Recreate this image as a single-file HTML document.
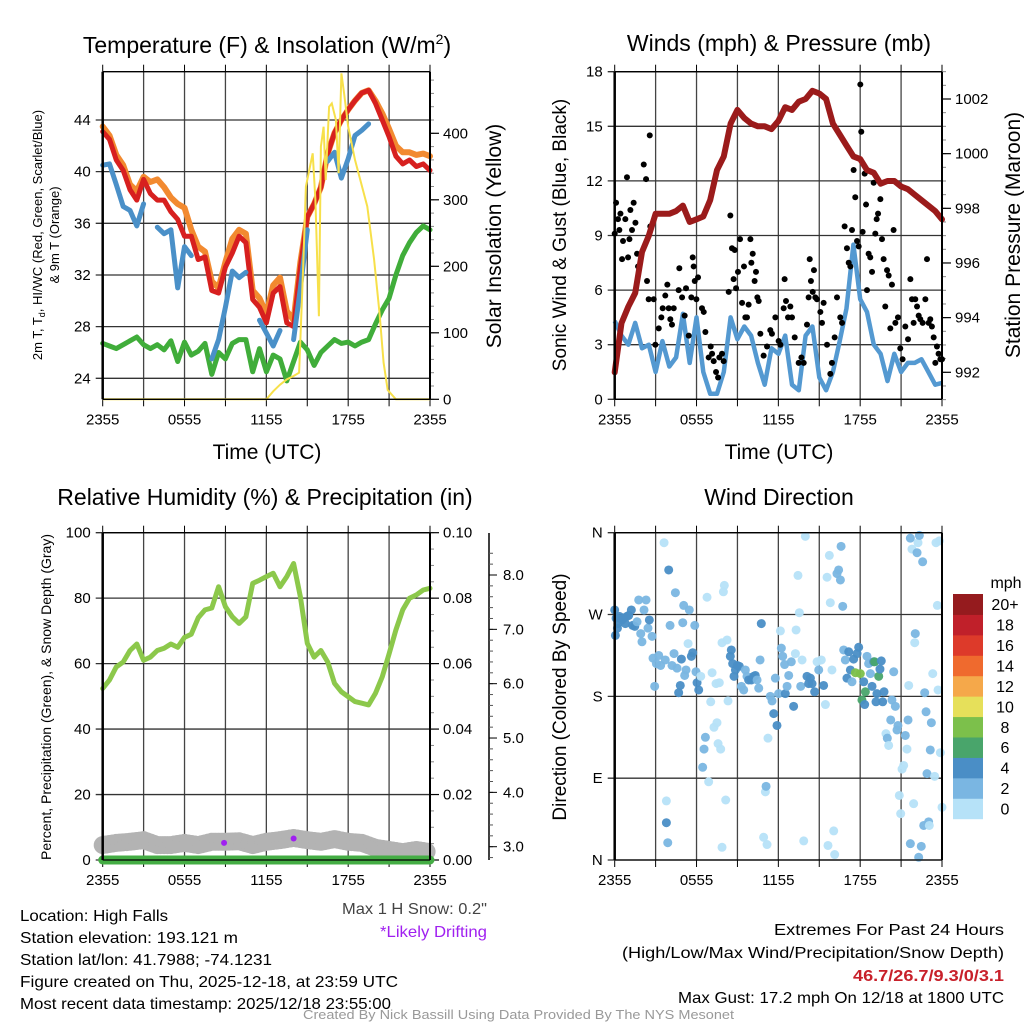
<!DOCTYPE html>
<html><head><meta charset="utf-8"><style>
body{margin:0;background:#fff}
svg text{font-family:"Liberation Sans Narrow","Liberation Sans",sans-serif;fill:#000}
</style></head><body>
<svg id="svg" width="1024" height="1024" viewBox="0 0 1024 1024" xmlns="http://www.w3.org/2000/svg">
<g id="layer"></g>
<g>
<text x="20" y="921" font-size="16" textLength="148" lengthAdjust="spacingAndGlyphs">Location: High Falls</text>
<text x="20" y="943" font-size="16" textLength="218" lengthAdjust="spacingAndGlyphs">Station elevation: 193.121 m</text>
<text x="20" y="965" font-size="16" textLength="252" lengthAdjust="spacingAndGlyphs">Station lat/lon: 41.7988; -74.1231</text>
<text x="20" y="987" font-size="16" textLength="378" lengthAdjust="spacingAndGlyphs">Figure created on Thu, 2025-12-18, at 23:59 UTC</text>
<text x="20" y="1009" font-size="16" textLength="371" lengthAdjust="spacingAndGlyphs">Most recent data timestamp: 2025/12/18 23:55:00</text>
<text x="342" y="914" font-size="16" textLength="145" lengthAdjust="spacingAndGlyphs" style="fill:#444">Max 1 H Snow: 0.2"</text>
<text x="380" y="937" font-size="16" textLength="107" lengthAdjust="spacingAndGlyphs" style="fill:#a020f0">*Likely Drifting</text>
<text x="774" y="935" font-size="16" textLength="230" lengthAdjust="spacingAndGlyphs">Extremes For Past 24 Hours</text>
<text x="622" y="958" font-size="16" textLength="382" lengthAdjust="spacingAndGlyphs">(High/Low/Max Wind/Precipitation/Snow Depth)</text>
<text x="853" y="981" font-size="16" font-weight="bold" textLength="151" lengthAdjust="spacingAndGlyphs" style="fill:#c8202a">46.7/26.7/9.3/0/3.1</text>
<text x="678" y="1003" font-size="16" textLength="326" lengthAdjust="spacingAndGlyphs">Max Gust: 17.2 mph On 12/18 at 1800 UTC</text>
<text x="303" y="1019" font-size="13" textLength="431" lengthAdjust="spacingAndGlyphs" style="fill:#999">Created By Nick Bassill Using Data Provided By The NYS Mesonet</text>
</g>
</svg>
<script>
// ---------- DATA ----------
const halfHours=[0,0.5,1,1.5,2,2.5,3,3.5,4,4.5,5,5.5,6,6.5,7,7.5,8,8.5,9,9.5,10,10.5,11,11.5,12,12.5,13,13.5,14,14.5,15,15.5,16,16.5,17,17.5,18,18.5,19,19.5,20,20.5,21,21.5,22,22.5,23,23.5,24];
const tempRed=[43.1,42.5,40.9,40.1,38.6,37.8,39.4,38.3,37.8,37.8,36.9,36.3,35,35,33.2,33.4,30.8,30.6,32.6,33.7,35,34.5,30.1,29.5,28.3,30.6,31.1,28.3,28,32.6,36.5,37.5,38.8,41.4,43,44,44.8,45.5,46.1,46.3,45.3,44,42.7,41.2,40.6,40.9,40.4,40.6,40.1];
const temp9m=[43.5,42.8,41.3,40.5,39.0,38.5,39.6,39.2,39.4,38.8,38.0,37.5,37.2,35.5,34.2,33.8,31.5,31.0,33.0,34.8,35.5,35.2,30.8,30.2,29.0,31.2,31.8,29.2,28.5,33.0,36.5,37.5,38.8,41.4,43,44,44.8,45.5,46.1,46.3,45.5,44.5,43.3,42,41.5,41.5,41.3,41.4,41.2];
const windChill=[40.5,40.6,39,37.3,37,35.8,37.5,null,35.7,35.2,35.5,31,34.2,33.5,null,null,25.5,27,29.5,32.3,31.8,32.2,null,28.5,27.5,26.5,27.7,null,27,31,35.5,null,null,40.8,41.5,39.5,41,42.8,43.2,43.7,null,null,null,39.6,null,null,null,null,null];
const dewPoint=[26.7,26.5,26.3,26.6,26.9,27.2,26.6,26.3,26.6,26.2,26.9,25.3,26.8,25.8,26.1,26.7,24.3,26.0,25.5,26.7,27.0,27.0,24.5,26.3,24.5,25.8,25.5,23.8,25.3,26.8,26.2,25.0,26.0,26.5,27.0,26.7,26.8,26.5,26.8,27.0,28.2,29.3,30.2,32,33.5,34.5,35.3,35.8,35.5];
const solarHours=[0,12,12.5,13,13.5,14,14.4,14.7,14.9,15.2,15.4,15.6,15.85,16,16.2,16.35,16.6,16.8,17.1,17.3,17.5,17.7,18,18.5,19.4,19.9,20.3,20.6,20.9,21.5,24];
const solarVals=[0,0,12,22,30,35,40,200,320,350,370,300,125,380,410,330,440,445,420,340,490,460,410,360,290,210,130,55,14,0,0];
const windSpeed=[4.3,3.5,3.0,4.2,2.8,3.0,1.5,3.2,1.8,2.3,4.7,2.0,4.5,1.5,0.3,0.3,1.5,4.5,3.3,4.0,3.5,2.0,0.8,2.8,2.5,3.5,0.8,0.5,3.5,4.0,1.2,0.5,1.5,3.2,5.0,8.5,5.5,4.8,3.0,2.5,1.0,2.5,1.5,2.0,2.0,2.2,1.5,0.8,0.9];
const pressure=[992.0,993.8,994.4,994.9,996.4,997.0,997.8,997.8,997.8,997.9,998.1,997.5,997.6,997.7,998.3,999.4,999.9,1001.1,1001.6,1001.3,1001.1,1001.0,1001.0,1000.9,1001.2,1001.7,1001.6,1001.9,1002.0,1002.3,1002.2,1002.0,1001.1,1000.7,1000.3,999.9,999.8,999.4,999.3,998.9,999.0,999.0,998.8,998.7,998.5,998.3,998.1,997.9,997.6];
const gustHours=[0,0.1,0.24,0.34,0.42,0.54,0.61,0.78,0.9,0.98,1.08,1.15,1.27,1.39,1.52,1.64,1.71,2.13,2.3,2.37,2.49,2.57,2.61,2.86,2.98,3.23,3.42,3.52,3.71,3.86,3.96,4.08,4.2,4.33,4.69,4.74,4.94,5.13,5.23,5.43,5.62,5.72,5.79,5.87,5.99,6.11,6.4,6.53,6.65,6.89,7.04,7.14,7.26,7.43,7.58,7.67,7.87,7.99,8.36,8.48,8.6,8.72,8.8,8.9,9.04,9.19,9.34,9.48,9.58,9.7,9.82,9.95,10.02,10.12,10.26,10.36,10.46,10.56,10.68,10.92,11.17,11.41,11.53,11.78,12.02,12.15,12.39,12.46,12.56,12.71,12.88,13.0,13.2,13.49,13.69,13.86,14.1,14.22,14.3,14.39,14.52,14.61,14.71,14.83,15.08,15.2,15.32,15.57,15.81,15.93,16.13,16.3,16.54,16.67,16.86,17.03,17.16,17.28,17.4,17.52,17.64,17.77,17.89,18.01,18.08,18.18,18.33,18.43,18.5,18.62,18.74,18.87,18.99,19.11,19.21,19.31,19.48,19.6,19.72,19.84,19.97,20.09,20.21,20.33,20.45,20.58,20.77,20.94,21.11,21.31,21.51,21.68,21.8,21.92,22.04,22.17,22.29,22.41,22.58,22.78,22.9,23.02,23.14,23.26,23.39,23.51,23.63,23.75,23.88,24];
const gustVals=[9.1,10.8,9.9,9.3,10.2,7.7,8.7,9.9,12.2,7.8,8.8,10.4,9.3,10.8,9.7,8.0,7.3,12.9,12.1,6.5,5.5,14.5,9.5,5.5,3.0,3.9,4.5,5.0,5.7,6.3,5.0,4.4,4.1,5.0,6.0,7.2,5.6,4.6,6.1,3.5,5.6,7.8,7.3,6.5,5.5,6.7,5.0,4.8,3.7,2.3,2.9,2.5,2.1,1.5,1.2,2.3,2.5,2.1,5.9,10.1,8.3,6.6,8.2,6.1,7.0,8.8,5.3,7.3,4.5,4.5,5.2,8.8,7.5,8.0,6.5,7.0,5.6,5.4,3.6,2.4,2.9,3.8,3.6,4.5,3.2,3.0,5.0,6.6,5.4,4.5,5.1,4.5,3.4,2.0,2.3,2.0,4.1,5.6,7.7,6.5,5.9,7.1,5.6,5.5,4.8,4.2,5.3,3.0,1.4,2.0,3.4,5.6,4.5,4.2,9.5,8.3,7.5,7.3,9.3,12.6,11.1,8.7,8.4,17.3,14.7,9.2,12.4,10.7,6.0,8.0,7.8,7.0,11.9,9.1,9.9,10.2,11.0,8.8,7.7,5.1,7.1,6.8,3.9,6.3,9.3,4.2,4.5,2.8,2.2,4.0,3.3,6.6,5.5,4.2,5.5,5.1,4.6,4.4,4.2,5.5,7.7,4.2,4.4,4.0,3.4,2.0,2.9,2.5,2.2,2.2];
const rh=[52.4,55,59,60.5,64,66,61,62,64,64.7,66,65,68,69,74,76.4,77,83.5,77.4,74.3,72.3,74.3,84.5,85.5,86.6,87.6,83.5,86.6,90.6,80.4,66.2,62,64,60.5,54,51.4,49.9,48.4,47.9,47.4,50.9,56,63,70.3,76.4,80,81,82.5,83];
const snowHours=[0,1,2,3,4,5,6,7,8,9,10,11,12,13,14,15,16,17,18,19,20,21,22,23,24];
const snowDepth=[3.03,3.07,3.09,3.12,3.03,3.03,3.07,3.03,3.09,3.09,3.1,3.03,3.09,3.12,3.16,3.12,3.09,3.14,3.09,3.07,2.98,2.94,2.9,2.94,2.9];
const driftHours=[8.9,14.0];
const driftDepth=[3.07,3.15];
const dirHours=[0,0.1,0.24,0.34,0.54,0.66,0.78,0.9,1.03,1.22,1.32,1.47,1.64,1.76,1.91,2.0,2.15,2.3,2.44,2.54,2.74,0.05,0.2,2.81,2.93,3.06,3.23,3.37,3.62,3.71,3.96,4.06,4.2,4.35,4.45,4.57,4.69,4.81,4.89,4.99,5.06,5.13,5.23,5.38,5.47,5.62,5.72,5.87,5.96,6.04,6.16,6.31,6.45,6.55,6.65,6.77,6.89,7.04,7.14,7.28,7.43,7.5,7.58,7.67,7.77,7.87,7.97,8.04,8.14,8.24,8.31,8.48,8.55,8.65,8.75,8.85,8.99,9.14,9.29,9.46,9.58,9.7,9.82,10.02,10.19,10.31,10.44,10.56,10.66,10.75,7.87,3.79,3.79,3.89,10.92,11.05,11.1,11.17,11.24,11.41,11.54,11.66,11.78,11.9,12.02,12.15,12.22,12.32,12.46,12.51,12.64,12.76,12.95,13.12,13.25,13.3,13.44,13.54,13.64,13.74,13.86,13.98,14.1,14.22,14.35,14.47,14.66,14.84,14.96,15.15,15.32,15.45,15.57,15.64,15.74,15.81,15.93,16.06,16.13,16.3,16.42,16.55,16.6,16.72,16.79,16.91,17.03,17.16,17.28,17.4,17.52,17.65,17.77,17.89,18.01,18.13,18.26,18.33,18.38,18.5,18.62,18.75,18.87,18.99,19.06,19.16,19.23,19.36,19.45,19.55,19.65,19.75,19.89,19.99,20.09,20.24,20.33,20.46,20.58,20.7,20.77,20.87,20.97,21.07,21.19,21.31,21.43,21.51,21.56,21.68,21.68,21.8,21.92,22.0,22.04,22.17,22.24,22.34,22.48,22.58,22.66,22.73,22.83,22.9,23.02,23.07,23.14,23.22,23.32,23.46,23.56,23.66,23.71,23.8,23.88,24.0,22.29];
const dirDeg=[275,266,260,268,264,266,260,268,269,275,258,257,262,286,249,240,275,286,255,264,246,247,255,222,191,216,225,214,349,220,319,258,214,227,294,211,184,192,221,261,280,203,209,238,275,224,228,258,207,195,187,202,102,122,135,289,86,174,206,146,194,151,128,195,122,239,295,302,66,242,175,224,231,216,202,209,214,213,191,187,209,202,198,198,202,203,198,189,220,260,14,65,41,19,25,75,81,17,134,180,175,161,200,148,183,252,233,224,215,183,191,203,218,169,227,253,313,272,191,220,21,356,202,194,200,194,185,218,209,220,192,171,311,16,335,283,209,32,6,315,319,308,345,279,231,220,200,229,209,196,221,206,227,234,205,176,196,171,185,224,216,205,191,218,218,174,183,202,210,219,174,185,139,134,126,154,176,207,169,143,148,71,51,100,104,137,122,154,192,18,354,342,62,239,249,338,349,357,15,328,38,184,163,95,42,38,121,151,205,92,349,280,187,351,118,58,3];
const dirSpeed=[5,5,5,5,5,5,5,5,5,5,5,5,3,3,3,3,3,3,3,5,3,5,5,3,3,3,3,3,1,3,5,3,3,3,3,3,5,5,5,3,3,3,3,1,3,5,5,3,3,5,5,1,3,3,3,1,1,1,1,1,1,1,1,1,1,1,1,1,1,1,1,5,5,5,5,5,5,5,3,3,3,3,5,5,5,5,3,3,3,5,1,1,5,3,1,1,3,1,1,3,3,5,3,5,3,1,3,3,3,5,3,3,3,5,1,1,1,1,3,1,1,1,5,5,5,5,5,1,3,1,5,1,1,1,1,1,1,1,1,3,3,3,3,3,3,3,5,5,5,3,5,9,5,5,9,7,5,5,7,3,3,3,5,5,7,5,5,7,5,5,5,5,1,3,1,3,3,3,3,3,3,1,1,1,1,3,1,3,1,3,3,1,1,1,3,3,1,3,3,3,3,3,3,3,3,1,3,3,1,1,1,1,1,1,1,1,3];
const cbLabels=["0","2","4","6","8","10","12","14","16","18","20+"];
const cbColors=["#b6e2f8","#7ab6e2","#4a8ec6","#49a56b","#7cc04b","#e6e05a","#f5a84a","#ef6a2e","#dd3a2a","#c0202a","#951b1e"];
const xTickLabels=["2355","0555","1155","1755","2355"];
const tempTicks=[24,28,32,36,40,44];
const solarTicks=[0,100,200,300,400];
const windTicks=[0,3,6,9,12,15,18];
const presTicks=[992,994,996,998,1000,1002];
const rhTicks=[0,20,40,60,80,100];
const precTicks=["0.00","0.02","0.04","0.06","0.08","0.10"];
const snowTicks=["3.0","4.0","5.0","6.0","7.0","8.0"];
const dirTicks=["N","E","S","W","N"];

// ---------- helpers ----------
const NS="http://www.w3.org/2000/svg";
const layer=document.getElementById('layer');
function mk(tag,attrs,parent){const e=document.createElementNS(NS,tag);for(const k in attrs)e.setAttribute(k,attrs[k]);(parent||layer).appendChild(e);return e;}
function lin(d0,d1,p0,p1){return v=>p0+(v-d0)*(p1-p0)/(d1-d0);}
const L=102.7,R=430,PW=R-L;
function xs(off){return lin(0,24,L+off,R+off);}
function pathFrom(xsArr,ysArr,X,Y){let d="",pen=false;for(let i=0;i<xsArr.length;i++){if(ysArr[i]==null){pen=false;continue;}d+=(pen?"L":"M")+X(xsArr[i]).toFixed(1)+","+Y(ysArr[i]).toFixed(1);pen=true;}return d;}
function frame(off,top,bot,g){
  for(let i=0;i<=8;i++){const x=L+off+i*PW/8;const l=mk('line',{x1:x,x2:x,y1:top,y2:bot,stroke:'#444','stroke-width':1.3},g);
    mk('line',{x1:x,x2:x,y1:top-7,y2:top,stroke:'#000'},g);mk('line',{x1:x,x2:x,y1:bot,y2:bot+7,stroke:'#000'},g);}
  xTickLabels.forEach((t,i)=>{const tx=mk('text',{x:L+off+i*PW/4,y:bot+25,'font-size':15,'text-anchor':'middle'},g);tx.textContent=t;});
}
function hgrid(off,Y,vals,labels,g){
  vals.forEach((v,i)=>{const y=Y(v);const l=mk('line',{x1:L+off-7,x2:R+off,y1:y,y2:y,stroke:'#333','stroke-width':1.3},g);
    const t=mk('text',{x:L+off-12,y:y+5,'font-size':15,'text-anchor':'end'},g);t.textContent=labels?labels[i]:v;});
}
function rightAxis(off,Y,vals,labels,top,bot,minorStep,lo,hi,g){
  const x=R+off;
  for(let v=lo;v<=hi+1e-9;v+=minorStep){const y=Y(v);if(y<top-0.5||y>bot+0.5)continue;mk('line',{x1:x,x2:x+4,y1:y,y2:y,stroke:'#888'},g);}
  vals.forEach((v,i)=>{const y=Y(v);mk('line',{x1:x,x2:x+9,y1:y,y2:y,stroke:'#000','stroke-width':1.2},g);
    const t=mk('text',{x:x+13,y:y+5,'font-size':15},g);t.textContent=labels?labels[i]:v;});
}
function label(txt,x,y,size,rot,name,anchor){const t=mk('text',{x:x,y:y,'font-size':size,'text-anchor':anchor||'middle',transform:rot?`rotate(-90 ${x} ${y})`:''});t.textContent=txt;return t;}
function box(off,top,bot,g){mk('line',{x1:L+off,x2:L+off,y1:top,y2:bot,stroke:'#000','stroke-width':2.5},g);mk('line',{x1:R+off,x2:R+off,y1:top,y2:bot,stroke:'#000','stroke-width':2},g);mk('line',{x1:L+off,x2:R+off,y1:top,y2:top,stroke:'#000','stroke-width':1.3},g);mk('line',{x1:L+off,x2:R+off,y1:bot,y2:bot,stroke:'#000','stroke-width':1.3},g);}

// ---------- Panel 1: Temperature ----------
{
const g=mk('g',{});
const top=71.7,bot=399.3,X=xs(0);
const Y=lin(24,44,378.3,120),YS=lin(0,400,399.3,133.3);
frame(0,top,bot,g);hgrid(0,Y,tempTicks,null,g);
rightAxis(0,YS,solarTicks,null,top,bot,20,0,480,g);
const lines=[[temp9m,'#f28a30',6,'temp-9m-line'],[tempRed,'#d7201f',5,'temp-2m-line'],[dewPoint,'#40ad3a',5,'dewpoint-line'],[windChill,'#4a90c8',5,'windchill-line']];
lines.forEach(s=>{const p=mk('path',{d:pathFrom(halfHours,s[0],X,Y),fill:'none',stroke:s[1],'stroke-width':s[2],'stroke-linejoin':'round','stroke-linecap':'round'},g);});
const sp=mk('path',{d:pathFrom(solarHours,solarVals,X,YS),fill:'none',stroke:'#f7e04a','stroke-width':2},g);
box(0,top,bot,g);
const t=mk('text',{x:267,y:53,'font-size':23,'text-anchor':'middle'},g);t.innerHTML='Temperature (F) &amp; Insolation (W/m<tspan dy="-9" font-size="14">2</tspan><tspan dy="9">)</tspan>';
const yl=mk('text',{x:42,y:235,'font-size':13,'text-anchor':'middle',transform:'rotate(-90 42 235)'},g);yl.innerHTML='2m T, T<tspan font-size="9" dy="3">d</tspan><tspan dy="-3">, HI/WC (Red, Green, Scarlet/Blue)</tspan>';
label('& 9m T (Orange)',59,235,13,true,'temperature-y-title-line2');
label('Solar Insolation (Yellow)',501,236,21,true,'solar-y-title');
label('Time (UTC)',267,459,21,false,'x-axis-title');
}
// ---------- Panel 2: Winds ----------
{
const off=512;const g=mk('g',{});
const top=71.7,bot=399.3,X=xs(off);
const Y=lin(0,18,399.3,71.7),YP=lin(992,1002,372.3,99);
frame(off,top,bot,g);hgrid(off,Y,windTicks,null,g);
rightAxis(off,YP,presTicks,null,top,bot,0.5,991,1003,g);
const wl=mk('path',{d:pathFrom(halfHours,windSpeed,X,Y),fill:'none',stroke:'#5499d1','stroke-width':4.5,'stroke-linejoin':'round'},g);
gustHours.forEach((h,i)=>{const c=mk('circle',{cx:X(h),cy:Y(gustVals[i]),r:3,fill:'#000'},g);});
const pl=mk('path',{d:pathFrom(halfHours,pressure,X,YP),fill:'none',stroke:'#9b1b1b','stroke-width':6,'stroke-linejoin':'round','stroke-linecap':'round'},g);
box(off,top,bot,g);
label('Winds (mph) & Pressure (mb)',779,51,23,false,'winds-title');
label('Sonic Wind & Gust (Blue, Black)',566,235,19,true,'wind-y-title');
label('Station Pressure (Maroon)',1020,235,21,true,'pressure-y-title');
label('Time (UTC)',779,459,21,false,'x-axis-title-2');
}
// ---------- Panel 3: RH ----------
{
const g=mk('g',{});
const top=532.7,bot=860,X=xs(0);
const Y=lin(0,100,860,532.7),YS=lin(3,8,846.7,575);
frame(0,top,bot,g);hgrid(0,Y,rhTicks,null,g);
rightAxis(0,Y,[0,20,40,60,80,100],precTicks,top,bot,5,0,100,g);
mk('line',{x1:489,x2:489,y1:533,y2:860,stroke:'#000','stroke-width':1.5},g);
for(let v=2.8;v<=8.6;v+=0.2){const y=YS(v);if(y<533||y>860)continue;mk('line',{x1:489,x2:493,y1:y,y2:y,stroke:'#555'},g);}
snowTicks.forEach(s=>{const y=YS(parseFloat(s));mk('line',{x1:489,x2:497,y1:y,y2:y,stroke:'#000'},g);const t=mk('text',{x:503,y:y+5,'font-size':15},g);t.textContent=s;});
for(let i=0;i<snowHours.length-1;i++){for(let k=0;k<4;k++){const f=k/4;const h=snowHours[i]+f*(snowHours[i+1]-snowHours[i]);const v=snowDepth[i]+f*(snowDepth[i+1]-snowDepth[i]);const c=mk('circle',{cx:X(h),cy:YS(v),r:9,fill:'#b3b3b3'},g);}}
const pr=mk('line',{x1:X(0),x2:X(24),y1:Y(0),y2:Y(0),stroke:'#44ad44','stroke-width':9,'stroke-linecap':'round'},g);
driftHours.forEach((h,i)=>{const c=mk('circle',{cx:X(h),cy:YS(driftDepth[i]),r:3,fill:'#a020f0'},g);});
const rl=mk('path',{d:pathFrom(halfHours,rh,X,Y),fill:'none',stroke:'#8cc84b','stroke-width':5,'stroke-linejoin':'round','stroke-linecap':'round'},g);
box(0,top,bot,g);
label('Relative Humidity (%) & Precipitation (in)',265,505,23,false,'humidity-title');
label('Percent, Precipitation (Green), & Snow Depth (Gray)',51,697,14,true,'humidity-y-title');
}
// ---------- Panel 4: Wind direction ----------
{
const off=512;const g=mk('g',{});
const top=532.7,bot=860,X=xs(off);
const Y=lin(0,360,860,532.7);
frame(off,top,bot,g);hgrid(off,Y,[0,90,180,270,360],dirTicks,g);
function col(s){return cbColors[Math.min(10,Math.floor(s/2))];}
dirHours.forEach((h,i)=>{const c=mk('circle',{cx:X(h),cy:Y(dirDeg[i]),r:4.5,fill:col(dirSpeed[i]),'fill-opacity':0.95},g);});
box(off,top,bot,g);
const cbTop=594,cbBot=818.7,bh=(cbBot-cbTop)/11;
cbColors.forEach((c,i)=>{const y=cbBot-(i+1)*bh;const r=mk('rect',{x:953,y:y,width:30,height:bh+0.5,fill:c},g);
  const t=mk('text',{x:1005,y:y+bh/2+6,'font-size':16,'text-anchor':'middle'},g);t.textContent=cbLabels[i];});
label('mph',1006,588,16,false,'colorbar-title');
label('Wind Direction',779,505,23,false,'wind-direction-title');
label('Direction (Colored By Speed)',566,697,19,true,'direction-y-title');
}
</script>
</body></html>
